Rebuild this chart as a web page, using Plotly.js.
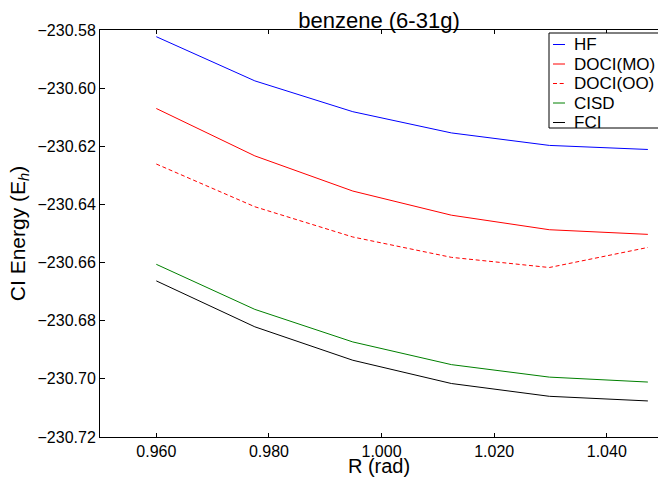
<!DOCTYPE html>
<html>
<head>
<meta charset="utf-8">
<script src="https://cdn.plot.ly/plotly-3.0.1.min.js"></script>
<style>
  html, body { margin: 0; padding: 0; background: #ffffff; overflow: hidden; }
  #chart { width: 658px; height: 477px; }
</style>
</head>
<body>
<div id="chart"></div>
<script>
// Bond angle R (rad) and CI energies (Hartree) for each method
const R = [0.9600, 0.9775, 0.9949, 1.0124, 1.0298, 1.0473];
const HF = [-230.5823, -230.5975, -230.6081, -230.6154, -230.6197, -230.6211];
const DOCI_MO = [-230.6070, -230.6233, -230.6354, -230.6437, -230.6487, -230.6503];
const DOCI_OO = [-230.6261, -230.6408, -230.6512, -230.6582, -230.6617, -230.6548];
const CISD = [-230.6606, -230.6761, -230.6873, -230.6951, -230.6994, -230.7011];
const FCI = [-230.6663, -230.6821, -230.6936, -230.7016, -230.7060, -230.7076];
const seriesNames = ['HF', 'DOCI(MO)', 'DOCI(OO)', 'CISD', 'FCI'];

const seriesData = [HF, DOCI_MO, DOCI_OO, CISD, FCI];
const colors = ['#0000ff', '#ff0000', '#ff0000', '#008000', '#000000'];
const dashes = ['solid', 'solid', '4px,2.7px', 'solid', 'solid'];

const FONT = 'Liberation Sans, Arial, Helvetica, sans-serif';

const traces = seriesData.map((y, i) => ({
  x: R,
  y: y,
  name: seriesNames[i],
  type: 'scatter',
  mode: 'lines',
  line: { color: colors[i], width: 1, dash: dashes[i] },
  showlegend: false,
  hoverinfo: 'x+y+name'
}));

// Plot area geometry (pixels) used to place the boxed legend in paper units
const W = 658, H = 477;
const M = { l: 100, r: 0, t: 30, b: 40 };
const pw = W - M.l - M.r, ph = H - M.t - M.b;
const px2x = px => (px - M.l) / pw;
const px2y = py => 1 - (py - M.t) / ph;

const legendLeft = 549, legendTop = 33, legendBottom = 128;
const rowTop = 44.5, rowStep = 19.5;
const sampleX0 = 553, sampleX1 = 565, textX = 572;

const shapes = [{
  type: 'rect', xref: 'paper', yref: 'paper',
  x0: px2x(legendLeft), x1: 1.1, y0: px2y(legendBottom), y1: px2y(legendTop),
  line: { color: '#000000', width: 1 }, fillcolor: '#ffffff', layer: 'above'
}];
const annotations = [];
seriesNames.forEach((name, i) => {
  const yy = px2y(rowTop + i * rowStep);
  shapes.push({
    type: 'line', xref: 'paper', yref: 'paper',
    x0: px2x(sampleX0), x1: px2x(sampleX1), y0: yy, y1: yy,
    line: { color: colors[i], width: 1, dash: dashes[i] }, layer: 'above'
  });
  annotations.push({
    xref: 'paper', yref: 'paper', x: px2x(textX), y: yy,
    xanchor: 'left', yanchor: 'middle', showarrow: false,
    text: name, font: { family: FONT, size: 17, color: '#000000' }
  });
});

const layout = {
  width: W, height: H,
  margin: M,
  paper_bgcolor: '#ffffff',
  plot_bgcolor: '#ffffff',
  font: { family: FONT, size: 16, color: '#000000' },
  title: {
    text: 'benzene (6-31g)',
    font: { family: FONT, size: 22, color: '#000000' },
    x: 0.5, xref: 'paper', xanchor: 'center',
    y: 1, yref: 'paper', yanchor: 'bottom', pad: { b: 2 }
  },
  xaxis: {
    range: [0.95, 1.0491],
    tickmode: 'linear', tick0: 0.96, dtick: 0.02, tickformat: '.3f',
    ticks: 'inside', ticklen: 4, tickcolor: '#000000',
    showline: true, linecolor: '#000000', linewidth: 1, mirror: 'ticks',
    showgrid: false, zeroline: false,
    tickfont: { family: FONT, size: 16, color: '#000000' },
    title: { text: 'R (rad)', font: { family: FONT, size: 20, color: '#000000' }, standoff: 5 }
  },
  yaxis: {
    range: [-230.72, -230.58],
    tickmode: 'linear', tick0: -230.72, dtick: 0.02, tickformat: '.2f',
    ticks: 'inside', ticklen: 5, tickcolor: '#000000',
    showline: true, linecolor: '#000000', linewidth: 1, mirror: false,
    showgrid: false, zeroline: false,
    tickfont: { family: FONT, size: 16, color: '#000000' },
    title: { text: 'CI Energy (E<sub><i>h</i></sub>)', font: { family: FONT, size: 21, color: '#000000' }, standoff: 6 }
  },
  shapes: shapes,
  annotations: annotations,
  showlegend: false
};

Plotly.newPlot('chart', traces, layout, { displayModeBar: false, staticPlot: true });
</script>
</body>
</html>
